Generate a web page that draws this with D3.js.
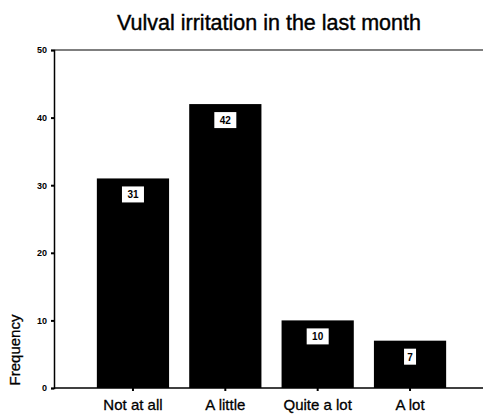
<!DOCTYPE html>
<html>
<head>
<meta charset="utf-8">
<script src="https://cdn.jsdelivr.net/npm/d3@7"></script>
<style>
 body{margin:0;background:#fff;}
 svg{display:block;font-family:"Liberation Sans",Arial,sans-serif;}
</style>
</head>
<body>
<div class="chart"></div>
<script>
var categories = ["Not at all","A little","Quite a lot","A lot"];
var frequency = [31,42,10,7];
var yTicks = [0,10,20,30,40,50];

var W = 483, H = 416;
var svg = d3.select(".chart").append("svg")
    .attr("width",W)
    .attr("height",H);

var x = d3.scaleBand()
    .domain(categories)
    .range([54,489])
    .paddingInner(0.218)
    .paddingOuter(0.464);

var y = d3.scaleLinear()
    .domain([0,50])
    .range([388,50]);

// title
svg.append("text")
   .attr("x",269)
   .attr("y",30)
   .attr("text-anchor","middle")
   .attr("font-size",21.5)
   .attr("stroke","#000").attr("stroke-width",0.4)
   .text("Vulval irritation in the last month");

// top frame line
svg.append("line")
   .attr("x1",54).attr("x2",W)
   .attr("y1",y(50)).attr("y2",y(50))
   .attr("stroke","#000").attr("stroke-width",1.2);

// bars
svg.selectAll(".bar")
   .data(frequency)
   .enter().append("rect")
   .attr("class","bar")
   .attr("x",function(d,i){ return x(categories[i]); })
   .attr("y",function(d){ return y(d); })
   .attr("width",x.bandwidth())
   .attr("height",function(d){ return y(0)-y(d); })
   .attr("fill","#000");

// value boxes
var lbl = svg.selectAll(".lbl")
   .data(frequency)
   .enter().append("g")
   .attr("class","lbl")
   .attr("transform",function(d,i){
      return "translate(" + (x(categories[i]) + x.bandwidth()/2) + "," + (y(d)+8) + ")";
   });
lbl.append("rect")
   .attr("x",function(d){ return String(d).length > 1 ? -11 : -6; })
   .attr("y",0)
   .attr("width",function(d){ return String(d).length > 1 ? 22 : 12; })
   .attr("height",16)
   .attr("fill","#fff");
lbl.append("text")
   .attr("y",12)
   .attr("text-anchor","middle")
   .attr("font-size",10)
   .attr("font-weight","bold")
   .text(function(d){ return d; });

// y axis
var yAxis = svg.append("g")
   .attr("transform","translate(54,0)")
   .call(d3.axisLeft(y).tickValues(yTicks).tickSize(3).tickPadding(4));
yAxis.select(".domain").attr("stroke","#000").attr("stroke-width",1.5);
yAxis.selectAll(".tick line").attr("stroke","#000").attr("stroke-width",2);
yAxis.selectAll(".tick text")
   .attr("font-size",9).attr("font-weight","bold")
   .attr("font-family","Liberation Sans, Arial, sans-serif");

// x axis line
svg.append("line")
   .attr("x1",54).attr("x2",W)
   .attr("y1",y(0)).attr("y2",y(0))
   .attr("stroke","#000").attr("stroke-width",1.5);

var xAxis = svg.append("g")
   .attr("transform","translate(0," + y(0) + ")")
   .call(d3.axisBottom(x).tickSize(3).tickPadding(8));
xAxis.select(".domain").remove();
xAxis.selectAll(".tick line").attr("stroke","#000").attr("stroke-width",2);
xAxis.selectAll(".tick text")
   .attr("font-size",15)
   .attr("stroke","#000").attr("stroke-width",0.3)
   .attr("font-family","Liberation Sans, Arial, sans-serif");

// y label
svg.append("text")
   .attr("transform","translate(20,350) rotate(-90)")
   .attr("text-anchor","middle")
   .attr("font-size",15)
   .attr("stroke","#000").attr("stroke-width",0.3)
   .text("Frequency");
</script>
</body>
</html>
